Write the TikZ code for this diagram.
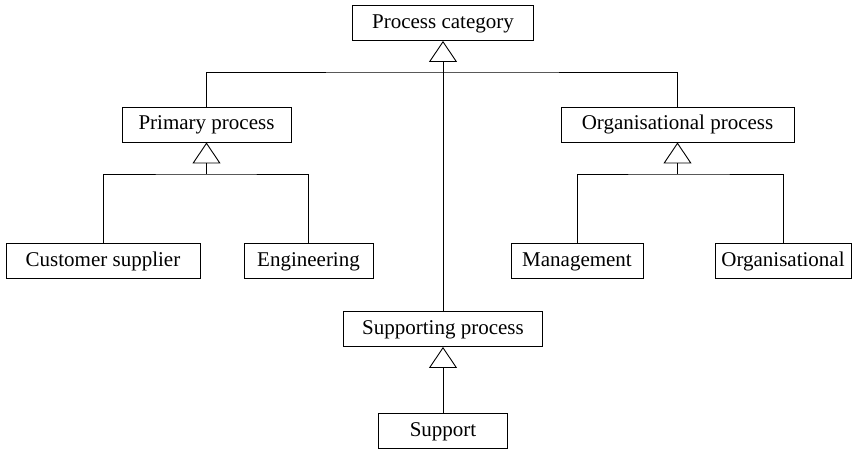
\documentclass[tikz,border=0pt]{standalone}
\usepackage{fontspec}
\setmainfont{Liberation Serif}
\usetikzlibrary{arrows.meta}
\begin{document}
\begin{tikzpicture}[x=1pt,y=-1pt,
  box/.style={draw, line width=0.9pt, inner sep=0pt, minimum height=35pt,
    text height=15pt, text depth=5pt,
    font=\fontsize{21}{24}\selectfont},
  conn/.style={line width=0.9pt},
  gen/.style={conn, -{Triangle[open, length=21pt, width=28pt, line width=0.9pt]}}]
\useasboundingbox (0,0) rectangle (852,450);
% class boxes
\node[box, minimum width=181pt] (cat)  at (443,23)    {Process category};
\node[box, minimum width=169pt] (prim) at (206.5,124.5) {Primary process};
\node[box, minimum width=233pt] (org)  at (677.5,124.5) {Organisational process};
\node[box, minimum width=194pt] (cs)   at (103,261)   {Customer supplier};
\node[box, minimum width=129pt] (eng)  at (308.5,261) {Engineering};
\node[box, minimum width=132pt] (mgmt) at (577,261)   {Management};
\node[box, minimum width=136pt] (orgl) at (783,261)   {Organisational};
\node[box, minimum width=199pt] (sp)   at (443,329)   {Supporting process};
\node[box, minimum width=129pt] (sup)  at (443,431)   {Support};
% junction points
\coordinate (jtop) at (443,72);
\coordinate (jp) at (206.5,174);
\coordinate (jo) at (677.5,174);
% generalisation links
\draw[conn] (prim.north) |- (jtop) -| (org.north);
\draw[gen] (sp.north) -- (cat.south);
\draw[conn] (cs.north) |- (jp) -| (eng.north);
\draw[gen] (jp) -- (prim.south);
\draw[conn] (mgmt.north) |- (jo) -| (orgl.north);
\draw[gen] (jo) -- (org.south);
\draw[gen] (sup.north) -- (sp.south);
\end{tikzpicture}
\end{document}
